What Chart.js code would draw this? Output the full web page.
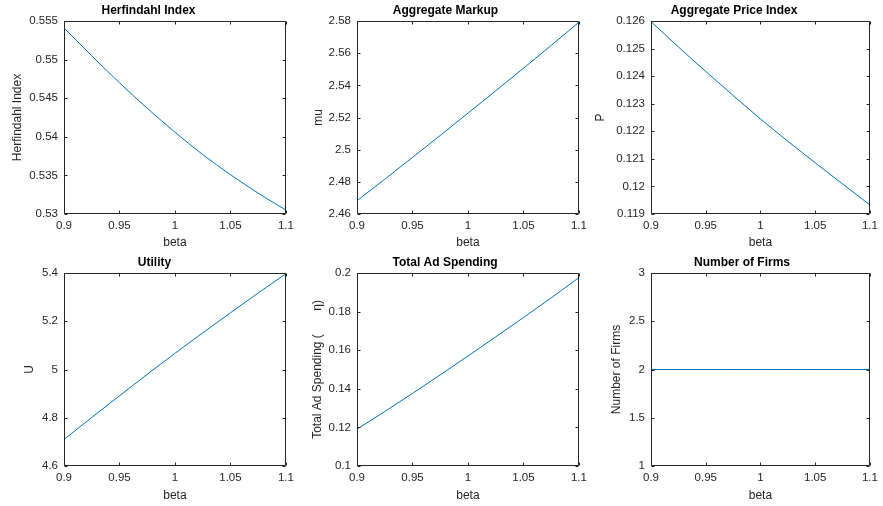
<!DOCTYPE html>
<html>
<head>
<meta charset="utf-8">
<script src="https://cdn.jsdelivr.net/npm/chart.js@4.4.1/dist/chart.umd.min.js"></script>
<style>
  html, body { margin: 0; padding: 0; background: #fff; }
  body { width: 883px; height: 506px; position: relative; overflow: hidden; }
  canvas { position: absolute; }
</style>
</head>
<body>
<script>
// beta grid shared by every panel
const beta = [0.9, 0.925, 0.95, 0.975, 1.0, 1.025, 1.05, 1.075, 1.1];

const herfindahl = [0.5541, 0.5505, 0.5470, 0.5437, 0.5406, 0.5377, 0.5351, 0.5327, 0.5305];
const markup = [2.4683, 2.4816, 2.4952, 2.5088, 2.5227, 2.5366, 2.5506, 2.5648, 2.5792];
const priceIndex = [0.12598, 0.12506, 0.12417, 0.12330, 0.12245, 0.12164, 0.12086, 0.12009, 0.11933];
const utility = [4.710, 4.801, 4.891, 4.980, 5.067, 5.152, 5.235, 5.317, 5.397];
const adSpending = [0.1191, 0.1282, 0.1376, 0.1472, 0.1570, 0.1669, 0.1769, 0.1871, 0.1976];
const numFirms = [2, 2, 2, 2, 2, 2, 2, 2, 2];

const xTicks = [0.9, 0.95, 1, 1.05, 1.1];
const herfTicks = [0.53, 0.535, 0.54, 0.545, 0.55, 0.555];
const markupTicks = [2.46, 2.48, 2.5, 2.52, 2.54, 2.56, 2.58];
const priceTicks = [0.119, 0.12, 0.121, 0.122, 0.123, 0.124, 0.125, 0.126];
const utilityTicks = [4.6, 4.8, 5, 5.2, 5.4];
const adTicks = [0.1, 0.12, 0.14, 0.16, 0.18, 0.2];
const firmsTicks = [1, 1.5, 2, 2.5, 3];

const FONT = "'Liberation Sans', Arial, Helvetica, sans-serif";
const AXIS_COLOR = '#262626';
const LINE_COLOR = '#0072BD';
const TICK_SIZE = 11.5;
const LABEL_SIZE = 12;

// matlab style box with inward ticks on all four sides
const boxPlugin = {
    id: 'matlabBox',
    afterDraw(chart) {
        const ctx = chart.ctx;
        const a = chart.chartArea;
        const l = Math.round(a.left) + 0.5, r = Math.round(a.right) - 0.5;
        const t = Math.round(a.top) + 0.5, b = Math.round(a.bottom) - 0.5;
        ctx.save();
        ctx.strokeStyle = AXIS_COLOR;
        ctx.lineWidth = 1;
        ctx.beginPath();
        ctx.rect(l, t, r - l, b - t);
        chart.scales.x.ticks.forEach(tk => {
            const px = Math.round(chart.scales.x.getPixelForValue(tk.value)) + 0.5;
            ctx.moveTo(px, b); ctx.lineTo(px, b - 3);
            ctx.moveTo(px, t); ctx.lineTo(px, t + 3);
        });
        chart.scales.y.ticks.forEach(tk => {
            const py = Math.round(chart.scales.y.getPixelForValue(tk.value)) + 0.5;
            ctx.moveTo(l, py); ctx.lineTo(l + 3, py);
            ctx.moveTo(r, py); ctx.lineTo(r - 3, py);
        });
        ctx.stroke();
        ctx.restore();
    }
};

function fmt(v) {
    return String(+v.toFixed(6));
}

function makePanel(p) {
    const canvas = document.createElement('canvas');
    const left = p.left, top = p.top;
    const width = p.axR - left + p.padR;
    const xH = p.betaY - p.axB + LABEL_SIZE * 0.6;
    const height = Math.ceil(p.axB - top + xH);
    const padBottom = height - (p.axB - top + xH);
    canvas.width = width;
    canvas.height = height;
    canvas.style.left = left + 'px';
    canvas.style.top = top + 'px';
    document.body.appendChild(canvas);

    const padTop = p.titleY - top - LABEL_SIZE * 0.6;
    const titleBottom = p.axT - top - padTop - LABEL_SIZE * 1.2;
    const tickPad = p.tickY - p.axB - TICK_SIZE * 0.6;

    new Chart(canvas.getContext('2d'), {
        type: 'line',
        data: {
            labels: beta,
            datasets: [{
                data: beta.map((b, i) => ({ x: b, y: p.values[i] })),
                borderColor: LINE_COLOR,
                borderWidth: 1,
                pointRadius: 0,
                fill: false,
                cubicInterpolationMode: 'monotone'
            }]
        },
        options: {
            responsive: false,
            devicePixelRatio: 1,
            animation: false,
            layout: { padding: { top: padTop, right: p.padR, bottom: padBottom, left: 0 } },
            plugins: {
                legend: { display: false },
                tooltip: { enabled: false },
                title: {
                    display: true,
                    text: p.title,
                    color: '#000',
                    font: { family: FONT, size: LABEL_SIZE, weight: 'bold', lineHeight: 1.2 },
                    padding: { top: 0, bottom: titleBottom }
                }
            },
            scales: {
                x: {
                    type: 'linear',
                    min: xTicks[0],
                    max: xTicks[xTicks.length - 1],
                    afterBuildTicks: s => { s.ticks = xTicks.map(v => ({ value: v })); },
                    afterFit: s => { s.height = xH; },
                    grid: { display: false, drawTicks: false },
                    border: { display: false },
                    ticks: {
                        color: AXIS_COLOR,
                        padding: tickPad,
                        maxRotation: 0,
                        autoSkip: false,
                        font: { family: FONT, size: TICK_SIZE, lineHeight: 1.2 },
                        callback: v => fmt(v)
                    },
                    title: {
                        display: true,
                        text: 'beta',
                        color: AXIS_COLOR,
                        padding: 0,
                        font: { family: FONT, size: LABEL_SIZE, lineHeight: 1.2 }
                    }
                },
                y: {
                    type: 'linear',
                    min: p.ticks[0],
                    max: p.ticks[p.ticks.length - 1],
                    afterBuildTicks: s => { s.ticks = p.ticks.map(v => ({ value: v })); },
                    afterFit: s => { s.width = p.axL - left; },
                    grid: { display: false, drawTicks: false },
                    border: { display: false },
                    ticks: {
                        color: AXIS_COLOR,
                        padding: 6,
                        autoSkip: false,
                        font: { family: FONT, size: TICK_SIZE, lineHeight: 1.2 },
                        callback: v => fmt(v)
                    },
                    title: {
                        display: true,
                        text: p.ylabel,
                        color: AXIS_COLOR,
                        padding: 0,
                        font: { family: FONT, size: LABEL_SIZE, lineHeight: 1.2 }
                    }
                }
            }
        },
        plugins: [boxPlugin]
    });
}

const panels = [
    { title: 'Herfindahl Index', ylabel: 'Herfindahl Index', values: herfindahl, ticks: herfTicks,
      left: 10, top: 0, axL: 64, axR: 287, axT: 21, axB: 214, titleY: 11, tickY: 226, betaY: 243, padR: 12 },
    { title: 'Aggregate Markup', ylabel: 'mu', values: markup, ticks: markupTicks,
      left: 311, top: 0, axL: 357, axR: 580, axT: 21, axB: 214, titleY: 11, tickY: 226, betaY: 243, padR: 12 },
    { title: 'Aggregate Price Index', ylabel: 'P', values: priceIndex, ticks: priceTicks,
      left: 593, top: 0, axL: 651, axR: 875, axT: 21, axB: 214, titleY: 11, tickY: 226, betaY: 243, padR: 8 },
    { title: 'Utility', ylabel: 'U', values: utility, ticks: utilityTicks,
      left: 22, top: 250, axL: 64, axR: 287, axT: 273, axB: 466, titleY: 263, tickY: 478, betaY: 496, padR: 12 },
    { title: 'Total Ad Spending', ylabel: 'Total Ad Spending (       \u03B7)', values: adSpending, ticks: adTicks,
      left: 310, top: 250, axL: 357, axR: 580, axT: 273, axB: 466, titleY: 263, tickY: 478, betaY: 496, padR: 12 },
    { title: 'Number of Firms', ylabel: 'Number of Firms', values: numFirms, ticks: firmsTicks,
      left: 609, top: 250, axL: 651, axR: 875, axT: 273, axB: 466, titleY: 263, tickY: 478, betaY: 496, padR: 8 }
];

panels.forEach(makePanel);
</script>
</body>
</html>
